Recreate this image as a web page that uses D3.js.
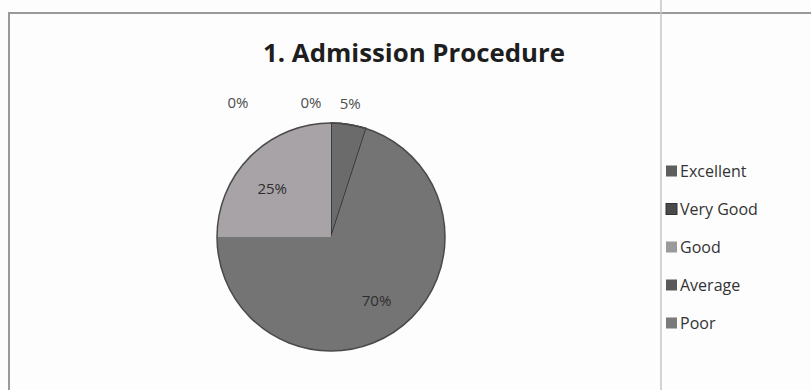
<!DOCTYPE html>
<html><head><meta charset="utf-8">
<script src="https://cdn.jsdelivr.net/npm/d3@7"></script>
<style>body{margin:0;background:#fff}svg{display:block}</style>
</head><body>
<svg id="c" width="811" height="390"></svg>
<script>
const title = "1. Admission Procedure";
const categories = ["Excellent","Very Good","Good","Average","Poor"];
const values = [5,70,25,0,0];
const labels = ["5%","70%","25%","0%","0%"];
const sliceColors = ["#6b6b6b","#747474","#a7a3a7","#5f5f5f","#7d7d7d"];
const legendColors = ["#5e5e5e","#4a4a4a","#9a9a9a","#5a5a5a","#7a7a7a"];

const svg = d3.select("#c");
const W=811,H=390;
svg.append("rect").attr("width",W).attr("height",H).attr("fill","#fdfdfd");

// frame lines
const fr = svg.append("g").attr("fill","none");
fr.append("path").attr("d",`M9,${H} V13 H${W}`).attr("stroke","#9a9a9a").attr("stroke-width",2);
fr.append("line").attr("x1",661).attr("x2",661).attr("y1",0).attr("y2",H).attr("stroke","#c4c4c4").attr("stroke-width",1.5);

// title
const t = svg.append("text").attr("x",414).attr("y",62).attr("text-anchor","middle")
  .attr("font-family","'Open Sans',sans-serif").attr("font-weight","bold").attr("font-size",21)
  .attr("fill","#1e1e1e").text(title);
const tw = t.node().getComputedTextLength();
t.attr("font-size", 21*302/tw);

// pie
const cx=331, cy=237, r=114;
const pie = d3.pie().sort(null).value(d=>d)(values);
const arc = d3.arc().innerRadius(0).outerRadius(r);
const g = svg.append("g").attr("transform",`translate(${cx},${cy})`);
g.selectAll("path.s").data(pie).join("path").attr("class","s")
  .attr("d",arc).attr("fill",(d,i)=>sliceColors[i])
  .attr("stroke",(d,i)=>i===0?"#2e2e2e":"none").attr("stroke-width",1.5);
g.append("circle").attr("r",r).attr("fill","none").attr("stroke","#4a4a4a").attr("stroke-width",1.5);

// labels
const inArc = d3.arc().innerRadius(r*0.68).outerRadius(r*0.68);
const outArc = d3.arc().innerRadius(r+22).outerRadius(r+22);
const lblOffsets = [[-2,0],[0,0],[-4,6],[-20,1],[-93,1]];
g.selectAll("text.l").data(pie).join("text").attr("class","l")
  .attr("transform",(d,i)=>{
    const c = (d.value>=20? inArc: outArc).centroid(d);
    return `translate(${c[0]+lblOffsets[i][0]},${c[1]+lblOffsets[i][1]})`;
  })
  .attr("text-anchor","middle").attr("dominant-baseline","central")
  .attr("font-family","'Open Sans',sans-serif").attr("font-size",15)
  .attr("fill",(d,i)=>d.value>=20?"#2e2e2e":"#4e4e4e")
  .text((d,i)=>labels[i]);

// legend
const lg = svg.append("g").attr("transform","translate(666,0)");
const ly = d3.scalePoint().domain(categories).range([171,323]);
lg.selectAll("rect").data(categories).join("rect")
  .attr("x",0).attr("y",d=>ly(d)-5.5).attr("width",11).attr("height",11)
  .attr("fill",(d,i)=>legendColors[i]).attr("stroke",(d,i)=>i===1?"#333":"none");
lg.selectAll("text").data(categories).join("text")
  .attr("x",14).attr("y",d=>ly(d)).attr("dominant-baseline","central")
  .attr("font-family","'Open Sans',sans-serif").attr("font-size",16).attr("fill","#333")
  .text(d=>d);
</script>
</body></html>
